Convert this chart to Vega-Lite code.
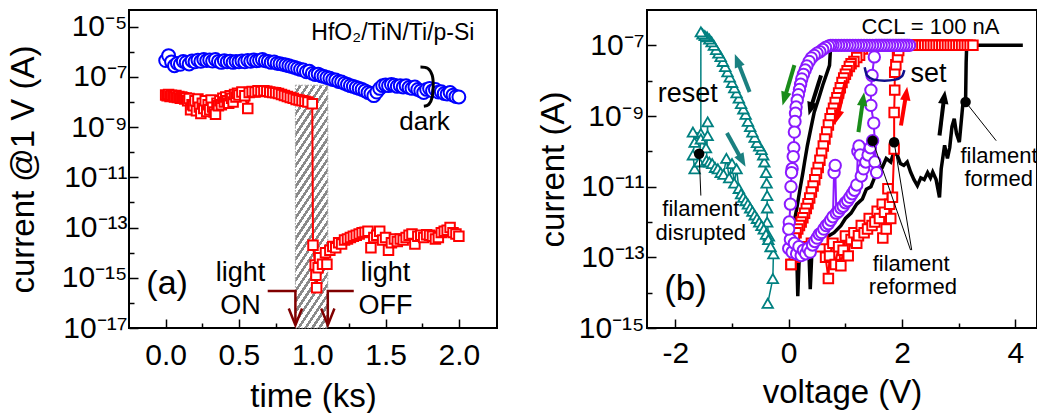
{
  "$schema": "https://vega.github.io/schema/vega-lite/v6.json",
  "background": "white",
  "padding": {"left": 5, "top": 9, "right": 0, "bottom": 0},
  "autosize": {"type": "pad"},
  "spacing": 150,
  "bounds": "flush",
  "config": {
    "font": "Liberation Sans",
    "view": {"stroke": "black", "strokeWidth": 2},
    "axis": {"domain": false, "grid": false, "labelFontSize": 30, "titleFontSize": 33, "titleFontWeight": "normal", "labelColor": "black", "titleColor": "black", "tickColor": "black", "tickWidth": 1.5, "labelFlush": false, "labelOverlap": false},
    "text": {"font": "Liberation Sans", "color": "black"}
  },
  "datasets": {
    "hatch": [{"x": 0.885, "x2": 1.106, "y": 1e-17, "y2": 4.7e-8}],
    "dark": [
      {"x":0.00,"y":4.5e-7},{"x":0.02,"y":7.1e-7},{"x":0.04,"y":4.0e-7},{"x":0.06,"y":2.8e-7},{"x":0.08,"y":3.5e-7},{"x":0.10,"y":3.2e-7},{"x":0.12,"y":4.2e-7},{"x":0.14,"y":3.8e-7},{"x":0.16,"y":3.3e-7},{"x":0.18,"y":4.4e-7},{"x":0.20,"y":4.0e-7},{"x":0.22,"y":4.7e-7},{"x":0.24,"y":4.2e-7},{"x":0.26,"y":5.0e-7},{"x":0.28,"y":4.5e-7},{"x":0.30,"y":4.8e-7},{"x":0.32,"y":4.3e-7},{"x":0.34,"y":5.0e-7},{"x":0.36,"y":4.2e-7},{"x":0.38,"y":3.8e-7},{"x":0.40,"y":4.5e-7},{"x":0.42,"y":4.0e-7},{"x":0.44,"y":4.3e-7},{"x":0.46,"y":3.8e-7},{"x":0.48,"y":4.2e-7},{"x":0.50,"y":4.0e-7},{"x":0.52,"y":4.4e-7},{"x":0.54,"y":4.0e-7},{"x":0.56,"y":4.6e-7},{"x":0.58,"y":4.2e-7},{"x":0.60,"y":4.8e-7},{"x":0.62,"y":4.4e-7},{"x":0.64,"y":4.6e-7},{"x":0.66,"y":5.0e-7},{"x":0.68,"y":4.4e-7},{"x":0.70,"y":4.2e-7},{"x":0.72,"y":3.8e-7},{"x":0.74,"y":4.0e-7},{"x":0.76,"y":3.5e-7},{"x":0.78,"y":3.4e-7},{"x":0.80,"y":3.2e-7},{"x":0.82,"y":3.0e-7},{"x":0.84,"y":2.8e-7},{"x":0.86,"y":2.6e-7},{"x":0.88,"y":2.4e-7},{"x":0.90,"y":2.2e-7},{"x":0.92,"y":2.0e-7},{"x":0.94,"y":1.9e-7},{"x":0.96,"y":1.6e-7},{"x":0.98,"y":1.7e-7},{"x":1.00,"y":1.4e-7},{"x":1.02,"y":1.26e-7},{"x":1.04,"y":1.3e-7},{"x":1.06,"y":1.12e-7},{"x":1.08,"y":1.05e-7},{"x":1.10,"y":9.5e-8},{"x":1.12,"y":8.9e-8},{"x":1.14,"y":7.9e-8},{"x":1.16,"y":7.6e-8},{"x":1.18,"y":6.6e-8},{"x":1.20,"y":6.3e-8},{"x":1.22,"y":5.6e-8},{"x":1.24,"y":5.0e-8},{"x":1.26,"y":4.5e-8},{"x":1.28,"y":4.2e-8},{"x":1.30,"y":3.8e-8},{"x":1.32,"y":3.5e-8},{"x":1.34,"y":3.2e-8},{"x":1.36,"y":2.8e-8},{"x":1.38,"y":2.4e-8},{"x":1.40,"y":2.2e-8},{"x":1.42,"y":1.8e-8},{"x":1.44,"y":2.5e-8},{"x":1.46,"y":3.5e-8},{"x":1.48,"y":4.5e-8},{"x":1.50,"y":4.8e-8},{"x":1.52,"y":4.5e-8},{"x":1.54,"y":5.0e-8},{"x":1.56,"y":4.7e-8},{"x":1.58,"y":4.2e-8},{"x":1.60,"y":4.5e-8},{"x":1.62,"y":4.0e-8},{"x":1.64,"y":4.5e-8},{"x":1.66,"y":3.8e-8},{"x":1.68,"y":3.5e-8},{"x":1.70,"y":4.0e-8},{"x":1.72,"y":3.2e-8},{"x":1.74,"y":2.8e-8},{"x":1.76,"y":2.4e-8},{"x":1.78,"y":3.2e-8},{"x":1.80,"y":3.5e-8},{"x":1.82,"y":2.8e-8},{"x":1.84,"y":3.2e-8},{"x":1.86,"y":2.5e-8},{"x":1.88,"y":2.6e-8},{"x":1.90,"y":2.2e-8},{"x":1.92,"y":2.1e-8},{"x":1.94,"y":2.4e-8},{"x":1.96,"y":1.9e-8},{"x":1.98,"y":1.66e-8},{"x":2.00,"y":1.6e-8}
    ],
    "light": [
      {"x":0.00,"y":1.9e-8},{"x":0.01,"y":1.78e-8},{"x":0.02,"y":2.0e-8},{"x":0.03,"y":1.66e-8},{"x":0.04,"y":1.86e-8},{"x":0.05,"y":1.74e-8},{"x":0.06,"y":1.58e-8},{"x":0.07,"y":1.82e-8},{"x":0.08,"y":1.51e-8},{"x":0.09,"y":1.66e-8},{"x":0.10,"y":1.41e-8},{"x":0.11,"y":1.58e-8},{"x":0.12,"y":1.48e-8},{"x":0.13,"y":1.32e-8},{"x":0.14,"y":1.45e-8},{"x":0.15,"y":1.12e-8},{"x":0.16,"y":1.38e-8},{"x":0.17,"y":5.0e-9},{"x":0.18,"y":7.9e-9},{"x":0.19,"y":7.1e-9},{"x":0.20,"y":1.12e-8},{"x":0.21,"y":4.5e-9},{"x":0.22,"y":1.32e-8},{"x":0.23,"y":6.3e-9},{"x":0.24,"y":3.5e-9},{"x":0.25,"y":8.9e-9},{"x":0.26,"y":5.6e-9},{"x":0.27,"y":1.12e-8},{"x":0.28,"y":4.2e-9},{"x":0.29,"y":7.9e-9},{"x":0.30,"y":5.0e-9},{"x":0.31,"y":1.2e-8},{"x":0.32,"y":6.3e-9},{"x":0.33,"y":4.0e-9},{"x":0.34,"y":3.3e-9},{"x":0.35,"y":8.9e-9},{"x":0.36,"y":7.1e-9},{"x":0.37,"y":1.12e-8},{"x":0.38,"y":7.9e-9},{"x":0.39,"y":1.41e-8},{"x":0.40,"y":1.0e-8},{"x":0.41,"y":1.58e-8},{"x":0.42,"y":1.12e-8},{"x":0.43,"y":8.9e-9},{"x":0.44,"y":1.78e-8},{"x":0.45,"y":1.41e-8},{"x":0.46,"y":1.0e-8},{"x":0.47,"y":2.0e-8},{"x":0.48,"y":1.58e-8},{"x":0.49,"y":2.24e-8},{"x":0.50,"y":1.9e-8},{"x":0.52,"y":2.5e-8},{"x":0.54,"y":1.78e-8},{"x":0.56,"y":5.6e-9},{"x":0.57,"y":2.4e-8},{"x":0.59,"y":2.63e-8},{"x":0.61,"y":2.5e-8},{"x":0.63,"y":2.82e-8},{"x":0.65,"y":2.63e-8},{"x":0.67,"y":2.82e-8},{"x":0.69,"y":2.7e-8},{"x":0.71,"y":2.5e-8},{"x":0.73,"y":2.4e-8},{"x":0.75,"y":2.34e-8},{"x":0.77,"y":2.19e-8},{"x":0.79,"y":2.0e-8},{"x":0.81,"y":1.82e-8},{"x":0.83,"y":1.66e-8},{"x":0.85,"y":1.51e-8},{"x":0.87,"y":1.41e-8},{"x":0.89,"y":1.26e-8},{"x":0.91,"y":1.2e-8},{"x":0.93,"y":1.12e-8},{"x":0.95,"y":1.07e-8},{"x":0.97,"y":1.0e-8},{"x":1.00,"y":8.5e-9},{"x":1.005,"y":2.0e-14},{"x":1.02,"y":3.2e-15},{"x":1.025,"y":1.26e-15},{"x":1.03,"y":4.0e-16},{"x":1.04,"y":2.5e-15},{"x":1.05,"y":6.3e-15},{"x":1.07,"y":3.5e-15},{"x":1.09,"y":1.0e-14},{"x":1.10,"y":3.5e-15},{"x":1.12,"y":1.26e-14},{"x":1.14,"y":1.78e-14},{"x":1.16,"y":1.58e-14},{"x":1.18,"y":2.5e-14},{"x":1.20,"y":2.24e-14},{"x":1.22,"y":3.2e-14},{"x":1.24,"y":3.5e-14},{"x":1.26,"y":4.0e-14},{"x":1.28,"y":4.5e-14},{"x":1.30,"y":5.0e-14},{"x":1.32,"y":5.6e-14},{"x":1.34,"y":6.3e-14},{"x":1.36,"y":6.6e-14},{"x":1.38,"y":7.1e-14},{"x":1.40,"y":1.58e-14},{"x":1.42,"y":4.0e-14},{"x":1.44,"y":5.0e-14},{"x":1.46,"y":7.1e-14},{"x":1.48,"y":3.2e-14},{"x":1.50,"y":4.0e-14},{"x":1.52,"y":1.26e-14},{"x":1.54,"y":2.5e-14},{"x":1.56,"y":3.5e-14},{"x":1.58,"y":2.8e-14},{"x":1.60,"y":3.5e-14},{"x":1.62,"y":3.2e-14},{"x":1.64,"y":4.0e-14},{"x":1.66,"y":5.0e-14},{"x":1.68,"y":5.6e-14},{"x":1.70,"y":2.24e-14},{"x":1.72,"y":4.5e-14},{"x":1.74,"y":5.0e-14},{"x":1.76,"y":4.0e-14},{"x":1.78,"y":5.2e-14},{"x":1.80,"y":5.0e-14},{"x":1.82,"y":4.5e-14},{"x":1.84,"y":3.5e-14},{"x":1.86,"y":4.0e-14},{"x":1.88,"y":6.3e-14},{"x":1.90,"y":7.1e-14},{"x":1.92,"y":7.9e-14},{"x":1.94,"y":1.0e-13},{"x":1.96,"y":6.3e-14},{"x":1.98,"y":5.6e-14},{"x":2.00,"y":4.5e-14}
    ],
    "bracket": [
      {"x":1.738,"y":2.5e-7},{"x":1.788,"y":2.2e-7},{"x":1.818,"y":1.17e-7},{"x":1.825,"y":4.7e-8},{"x":1.818,"y":1.58e-8},{"x":1.795,"y":8.1e-9},{"x":1.761,"y":6.8e-9}
    ],
    "lightArrows": [
      {"x":0.696,"y":2.95e-16,"a":"on"},{"x":0.885,"y":2.95e-16,"a":"on"},{"x":0.885,"y":1.35e-17,"a":"on"},
      {"x":1.283,"y":2.95e-16,"a":"off"},{"x":1.106,"y":2.95e-16,"a":"off"},{"x":1.106,"y":1.35e-17,"a":"off"}
    ],
    "lightHeads": [{"x":0.885,"y":1.3e-17},{"x":1.106,"y":1.3e-17}],
    "txtTitleA": [{"x":1.55,"y":5.6e-6,"s":"HfO₂/TiN/Ti/p-Si"}],
    "txtDark": [{"x":1.766,"y":1.58e-9,"s":"dark"}],
    "txtA": [{"x":0.01,"y":5.5e-16,"s":"(a)"}],
    "txtLight": [{"x":0.51,"y":1.58e-15,"s":"light"},{"x":0.51,"y":7.4e-17,"s":"ON"},{"x":1.5,"y":1.58e-15,"s":"light"},{"x":1.5,"y":7.4e-17,"s":"OFF"}],
    "teal": [
      {"x":-0.37,"y":5.0e-15},{"x":-0.28,"y":2.5e-14},{"x":-0.27,"y":1.26e-13},{"x":-0.35,"y":4.0e-13},{"x":-0.38,"y":1.0e-12},{"x":-0.38,"y":2.5e-12},{"x":-0.38,"y":5.6e-12},{"x":-0.39,"y":1.26e-11},{"x":-0.40,"y":2.5e-11},{"x":-0.43,"y":5.0e-11},{"x":-0.45,"y":7.9e-11},{"x":-0.48,"y":1.12e-10},{"x":-0.52,"y":1.41e-10},{"x":-0.56,"y":1.78e-10},{"x":-0.60,"y":2.5e-10},{"x":-0.64,"y":3.5e-10},{"x":-0.68,"y":5.0e-10},{"x":-0.72,"y":7.1e-10},{"x":-0.76,"y":1.12e-9},{"x":-0.80,"y":1.58e-9},{"x":-0.84,"y":2.24e-9},{"x":-0.88,"y":3.2e-9},{"x":-0.92,"y":4.5e-9},{"x":-0.96,"y":6.3e-9},{"x":-1.00,"y":8.9e-9},{"x":-1.04,"y":1.26e-8},{"x":-1.08,"y":1.78e-8},{"x":-1.12,"y":2.5e-8},{"x":-1.16,"y":3.5e-8},{"x":-1.20,"y":4.8e-8},{"x":-1.24,"y":6.0e-8},{"x":-1.28,"y":7.6e-8},{"x":-1.32,"y":1.0e-7},{"x":-1.36,"y":1.26e-7},{"x":-1.40,"y":1.5e-7},{"x":-1.44,"y":1.74e-7},{"x":-1.48,"y":1.9e-7},{"x":-1.52,"y":2.1e-7},{"x":-1.55,"y":2.4e-7},
      {"x":-1.55,"y":3.2e-10},{"x":-1.69,"y":3.5e-10},{"x":-1.66,"y":1.8e-10},{"x":-1.69,"y":7.9e-11},{"x":-1.66,"y":3.2e-11},{"x":-1.58,"y":5.0e-11},{"x":-1.55,"y":2.24e-10},{"x":-1.46,"y":1.26e-10},{"x":-1.43,"y":2.8e-10},{"x":-1.43,"y":6.8e-10},{"x":-1.45,"y":5.6e-11},
      {"x":-1.40,"y":5.0e-11},{"x":-1.35,"y":4.5e-11},{"x":-1.30,"y":3.5e-11},{"x":-1.25,"y":3.2e-11},{"x":-1.20,"y":2.5e-11},{"x":-1.15,"y":2.24e-11},{"x":-1.10,"y":6.3e-11},{"x":-1.05,"y":1.78e-11},{"x":-1.00,"y":4.5e-11},{"x":-0.96,"y":1.26e-11},{"x":-0.92,"y":3.2e-11},{"x":-0.88,"y":8.9e-12},{"x":-0.84,"y":6.3e-12},{"x":-0.80,"y":5.0e-12},{"x":-0.76,"y":4.0e-12},{"x":-0.72,"y":3.2e-12},{"x":-0.68,"y":2.5e-12},{"x":-0.64,"y":2.0e-12},{"x":-0.60,"y":1.58e-12},{"x":-0.56,"y":1.26e-12},{"x":-0.52,"y":1.0e-12},{"x":-0.48,"y":7.9e-13},{"x":-0.44,"y":6.3e-13},{"x":-0.40,"y":4.5e-13},{"x":-0.36,"y":3.2e-13},{"x":-0.32,"y":2.0e-13}
    ],
    "black": [
      {"x":0.05,"y":2.0e-13},{"x":0.10,"y":1.0e-13},{"x":0.14,"y":1.58e-13},{"x":0.16,"y":7.9e-15},{"x":0.19,"y":1.58e-13},{"x":0.25,"y":1.26e-13},{"x":0.30,"y":2.0e-13},{"x":0.36,"y":1.0e-13},{"x":0.38,"y":1.26e-14},{"x":0.41,"y":1.58e-13},{"x":0.50,"y":2.5e-13},{"x":0.60,"y":3.2e-13},{"x":0.70,"y":4.0e-13},{"x":0.80,"y":5.0e-13},{"x":0.92,"y":7.9e-13},{"x":1.00,"y":1.26e-12},{"x":1.10,"y":1.78e-12},{"x":1.20,"y":3.2e-12},{"x":1.30,"y":4.5e-12},{"x":1.37,"y":8.5e-12},{"x":1.45,"y":1.0e-11},{"x":1.50,"y":1.58e-11},{"x":1.57,"y":3.2e-11},{"x":1.65,"y":3.5e-11},{"x":1.72,"y":6.3e-11},{"x":1.80,"y":5.0e-11},{"x":1.86,"y":1.0e-10},{"x":1.92,"y":7.6e-11},{"x":1.97,"y":4.5e-11},{"x":2.03,"y":4.0e-11},{"x":2.09,"y":5.0e-11},{"x":2.15,"y":2.6e-11},{"x":2.21,"y":1.58e-11},{"x":2.27,"y":1.07e-11},{"x":2.33,"y":1.78e-11},{"x":2.39,"y":1.58e-11},{"x":2.45,"y":2.5e-11},{"x":2.50,"y":1.78e-11},{"x":2.54,"y":2.6e-11},{"x":2.60,"y":1.58e-11},{"x":2.66,"y":5.0e-12},{"x":2.69,"y":3.2e-11},{"x":2.75,"y":1.48e-10},{"x":2.80,"y":6.3e-11},{"x":2.84,"y":1.26e-10},{"x":2.88,"y":5.0e-10},{"x":2.92,"y":8.3e-10},{"x":2.96,"y":3.2e-10},{"x":3.01,"y":1.82e-10},{"x":3.07,"y":2.0e-9},{"x":3.12,"y":2.5e-9},{"x":3.13,"y":3.2e-8},{"x":3.14,"y":1.0e-7},{"x":4.13,"y":1.0e-7},{"x":0.74,"y":1.0e-7},{"x":0.72,"y":2.7e-8},{"x":0.60,"y":7.4e-9},{"x":0.53,"y":3.2e-9},{"x":0.45,"y":1.29e-9},{"x":0.39,"y":4.4e-10},{"x":0.33,"y":1.48e-10},{"x":0.28,"y":5.0e-11},{"x":0.25,"y":2.5e-11},{"x":0.20,"y":8.7e-12},{"x":0.14,"y":2.3e-12},{"x":0.07,"y":6.3e-13},{"x":0.03,"y":2.5e-13}
    ],
    "red": [
      {"x":0.04,"y":6.3e-14},{"x":0.10,"y":1.0e-13},{"x":0.20,"y":1.41e-13},{"x":0.30,"y":2.0e-13},{"x":0.40,"y":2.5e-13},{"x":0.50,"y":2.8e-13},{"x":0.55,"y":2.0e-13},{"x":0.60,"y":3.2e-13},{"x":0.65,"y":1.0e-13},{"x":0.70,"y":2.5e-14},{"x":0.72,"y":1.1e-13},{"x":0.78,"y":2.5e-13},{"x":0.82,"y":6.3e-14},{"x":0.88,"y":2.0e-13},{"x":0.92,"y":5.8e-14},{"x":0.96,"y":1.58e-13},{"x":1.00,"y":4.0e-13},{"x":1.05,"y":1.1e-13},{"x":1.10,"y":3.2e-13},{"x":1.15,"y":5.0e-13},{"x":1.20,"y":2.5e-13},{"x":1.23,"y":4.1e-13},{"x":1.28,"y":7.9e-13},{"x":1.33,"y":5.0e-13},{"x":1.39,"y":6.3e-13},{"x":1.42,"y":1.26e-12},{"x":1.47,"y":7.9e-13},{"x":1.52,"y":1.0e-12},{"x":1.56,"y":2.0e-12},{"x":1.60,"y":1.26e-12},{"x":1.65,"y":3.2e-12},{"x":1.69,"y":1.9e-12},{"x":1.66,"y":3.5e-13},{"x":1.72,"y":6.3e-13},{"x":1.75,"y":8.7e-12},{"x":1.78,"y":3.2e-12},{"x":1.80,"y":1.26e-12},{"x":1.83,"y":5.0e-12},{"x":1.86,"y":1.17e-10},{"x":1.86,"y":1.26e-9},{"x":1.87,"y":5.4e-9},{"x":1.87,"y":1.74e-8},{"x":1.89,"y":2.8e-8},{"x":1.92,"y":4.7e-8},{"x":1.94,"y":7.1e-8},{"x":1.97,"y":1.0e-7},
      {"x":2.00,"y":1e-7},{"x":2.05,"y":1e-7},{"x":2.10,"y":1e-7},{"x":2.15,"y":1e-7},{"x":2.20,"y":1e-7},{"x":2.25,"y":1e-7},{"x":2.30,"y":1e-7},{"x":2.35,"y":1e-7},{"x":2.40,"y":1e-7},{"x":2.45,"y":1e-7},{"x":2.50,"y":1e-7},{"x":2.55,"y":1e-7},{"x":2.60,"y":1e-7},{"x":2.65,"y":1e-7},{"x":2.70,"y":1e-7},{"x":2.75,"y":1e-7},{"x":2.80,"y":1e-7},{"x":2.85,"y":1e-7},{"x":2.90,"y":1e-7},{"x":2.95,"y":1e-7},{"x":3.00,"y":1e-7},{"x":3.05,"y":1e-7},{"x":3.10,"y":1e-7},{"x":3.15,"y":1e-7},{"x":3.20,"y":1e-7},{"x":3.25,"y":1e-7},
      {"x":1.33,"y":1e-7},{"x":1.30,"y":7.9e-8},{"x":1.25,"y":5.2e-8},{"x":1.20,"y":4.5e-8},{"x":1.15,"y":3.5e-8},{"x":1.10,"y":3.0e-8},{"x":1.07,"y":2.5e-8},{"x":1.03,"y":1.9e-8},{"x":1.00,"y":1.51e-8},{"x":0.97,"y":1.2e-8},{"x":0.94,"y":8.9e-9},{"x":0.91,"y":6.3e-9},{"x":0.88,"y":4.5e-9},{"x":0.85,"y":3.3e-9},{"x":0.82,"y":2.4e-9},{"x":0.79,"y":1.66e-9},{"x":0.76,"y":1.2e-9},{"x":0.73,"y":8.3e-10},{"x":0.70,"y":5.6e-10},{"x":0.67,"y":3.5e-10},{"x":0.64,"y":2.24e-10},{"x":0.61,"y":1.41e-10},{"x":0.58,"y":8.9e-11},{"x":0.55,"y":5.6e-11},{"x":0.52,"y":3.5e-11},{"x":0.49,"y":2.4e-11},{"x":0.46,"y":1.58e-11},{"x":0.43,"y":1.05e-11},{"x":0.40,"y":7.1e-12},{"x":0.37,"y":4.8e-12},{"x":0.34,"y":3.3e-12},{"x":0.31,"y":2.4e-12},{"x":0.28,"y":1.78e-12},{"x":0.25,"y":1.32e-12},{"x":0.22,"y":1.0e-12},{"x":0.19,"y":7.9e-13},{"x":0.16,"y":6.3e-13},{"x":0.13,"y":5.0e-13},{"x":0.10,"y":3.5e-13},{"x":0.07,"y":2.24e-13},{"x":0.04,"y":6.3e-14}
    ],
    "purple": [
      {"x":0.00,"y":1.78e-13},{"x":0.03,"y":3.2e-13},{"x":0.06,"y":1.41e-13},{"x":0.10,"y":2.5e-13},{"x":0.14,"y":1.26e-13},{"x":0.18,"y":2.0e-13},{"x":0.22,"y":1.12e-13},{"x":0.26,"y":1.58e-13},{"x":0.30,"y":1.26e-13},{"x":0.34,"y":1.78e-13},{"x":0.38,"y":1.41e-13},{"x":0.42,"y":2.24e-13},{"x":0.46,"y":2.8e-13},{"x":0.50,"y":3.5e-13},{"x":0.54,"y":4.5e-13},{"x":0.58,"y":5.0e-13},{"x":0.62,"y":6.3e-13},{"x":0.66,"y":7.9e-13},{"x":0.70,"y":8.9e-13},{"x":0.74,"y":1.12e-12},{"x":0.78,"y":1.41e-12},{"x":0.80,"y":2.5e-11},{"x":0.82,"y":4.0e-11},{"x":0.84,"y":1.78e-12},{"x":0.88,"y":2.0e-12},{"x":0.92,"y":2.5e-12},{"x":0.96,"y":2.8e-12},{"x":1.00,"y":3.5e-12},{"x":1.04,"y":4.0e-12},{"x":1.08,"y":5.0e-12},{"x":1.12,"y":6.3e-12},{"x":1.16,"y":7.9e-12},{"x":1.20,"y":1.12e-11},{"x":1.22,"y":1.0e-10},{"x":1.24,"y":1.41e-10},{"x":1.26,"y":7.9e-11},{"x":1.28,"y":2.0e-11},{"x":1.32,"y":3.2e-11},{"x":1.36,"y":5.0e-11},{"x":1.40,"y":7.9e-11},{"x":1.44,"y":1.26e-10},{"x":1.48,"y":2.0e-10},{"x":1.52,"y":5.0e-11},{"x":1.55,"y":2.5e-11},{"x":1.50,"y":6.3e-10},{"x":1.45,"y":2.0e-9},{"x":1.45,"y":5.4e-9},{"x":1.47,"y":1.41e-8},{"x":1.51,"y":4.7e-8},{"x":1.55,"y":1.0e-7},
      {"x":1.60,"y":1e-7},{"x":1.65,"y":1e-7},{"x":1.70,"y":1e-7},{"x":1.75,"y":1e-7},{"x":1.80,"y":1e-7},{"x":1.85,"y":1e-7},{"x":1.90,"y":1e-7},{"x":1.95,"y":1e-7},{"x":2.00,"y":1e-7},{"x":2.05,"y":1e-7},{"x":2.10,"y":1e-7},{"x":2.13,"y":1e-7},
      {"x":2.08,"y":1e-7},{"x":2.03,"y":1e-7},{"x":1.98,"y":1e-7},{"x":1.93,"y":1e-7},{"x":1.88,"y":1e-7},{"x":1.83,"y":1e-7},{"x":1.78,"y":1e-7},{"x":1.73,"y":1e-7},{"x":1.68,"y":1e-7},{"x":1.63,"y":1e-7},{"x":1.58,"y":1e-7},{"x":1.53,"y":1e-7},{"x":1.48,"y":1e-7},{"x":1.43,"y":1e-7},{"x":1.38,"y":1e-7},{"x":1.33,"y":1e-7},{"x":1.28,"y":1e-7},{"x":1.23,"y":1e-7},{"x":1.18,"y":1e-7},{"x":1.13,"y":1e-7},{"x":1.08,"y":1e-7},{"x":1.03,"y":1e-7},{"x":0.98,"y":1e-7},{"x":0.93,"y":1e-7},{"x":0.88,"y":1e-7},{"x":0.83,"y":1e-7},{"x":0.78,"y":1e-7},{"x":0.74,"y":1e-7},
      {"x":0.70,"y":9.5e-8},{"x":0.65,"y":8.7e-8},{"x":0.60,"y":7.6e-8},{"x":0.55,"y":6.6e-8},{"x":0.50,"y":6.0e-8},{"x":0.45,"y":5.2e-8},{"x":0.40,"y":4.4e-8},{"x":0.36,"y":3.5e-8},{"x":0.32,"y":2.6e-8},{"x":0.29,"y":2.0e-8},{"x":0.26,"y":1.51e-8},{"x":0.23,"y":1.12e-8},{"x":0.21,"y":7.9e-9},{"x":0.19,"y":5.6e-9},{"x":0.17,"y":4.0e-9},{"x":0.15,"y":2.8e-9},{"x":0.13,"y":1.8e-9},{"x":0.12,"y":1.2e-9},{"x":0.11,"y":7.0e-10},{"x":0.10,"y":3.5e-10},{"x":0.09,"y":1.26e-10},{"x":0.08,"y":7.1e-11},{"x":0.06,"y":3.2e-11},{"x":0.05,"y":2.5e-11},{"x":0.04,"y":1.0e-11},{"x":0.03,"y":3.2e-12},{"x":0.01,"y":1.0e-12},{"x":0.00,"y":6.3e-13}
    ],
    "dots": [{"x":-1.58,"y":8.5e-11},{"x":1.48,"y":2.0e-10},{"x":1.86,"y":1.8e-10},{"x":3.12,"y":2.5e-9}],
    "leaders": [
      {"x":-1.58,"y":8.5e-11,"x2":-1.55,"y2":5.6e-12},
      {"x":1.48,"y":2.0e-10,"x2":2.15,"y2":1.6e-13},
      {"x":1.86,"y":1.8e-10,"x2":2.17,"y2":1.6e-13},
      {"x":3.12,"y":2.5e-9,"x2":3.66,"y2":2.0e-10}
    ],
    "arrows": [
      {"x":0.10,"y":2.75e-8,"x2":-0.07,"y2":3.3e-9,"k":"green","dir":"dl"},
      {"x":0.57,"y":1.41e-8,"x2":0.39,"y2":1.7e-9,"k":"black","dir":"dl"},
      {"x":1.01,"y":1.02e-8,"x2":0.86,"y2":1.0e-9,"k":"red","dir":"dl"},
      {"x":1.23,"y":3.5e-10,"x2":1.31,"y2":2.8e-9,"k":"green","dir":"u"},
      {"x":1.98,"y":5.4e-10,"x2":2.07,"y2":4.0e-9,"k":"red","dir":"u"},
      {"x":2.66,"y":2.8e-10,"x2":2.74,"y2":3.2e-9,"k":"black","dir":"u"},
      {"x":-0.69,"y":4.8e-9,"x2":-0.90,"y2":3.5e-8,"k":"teal","dir":"ul"},
      {"x":-1.09,"y":3.3e-10,"x2":-0.83,"y2":5.8e-11,"k":"teal","dir":"dr"}
    ],
    "setArc": [{"x":1.34,"y":2.4e-8},{"x":1.38,"y":1.41e-8},{"x":1.5,"y":1.07e-8},{"x":1.69,"y":1.0e-8},{"x":1.88,"y":1.07e-8},{"x":2.0,"y":1.35e-8},{"x":2.04,"y":2.0e-8}],
    "txtSmallC": [{"x":2.5,"y":3.3e-7,"s":"CCL = 100 nA"},{"x":-1.55,"y":2.3e-12,"s":"filament"},{"x":-1.55,"y":4.9e-13,"s":"disrupted"},{"x":2.16,"y":6.5e-14,"s":"filament"},{"x":2.19,"y":1.45e-14,"s":"reformed"}],
    "txtSmallL": [{"x":3.03,"y":7.6e-11,"s":"filament"},{"x":3.1,"y":1.7e-11,"s":"formed"}],
    "txtReset": [{"x":-1.78,"y":4.3e-9,"s":"reset"}],
    "txtSet": [{"x":2.15,"y":1.58e-8,"s":"set"}],
    "txtB": [{"x":-1.82,"y":1.26e-14,"s":"(b)"}]
  },
  "hconcat": [
    {
      "width": 368,
      "height": 318,
      "encoding": {
        "x": {"field": "x", "type": "quantitative", "scale": {"domain": [-0.25, 2.26], "nice": false, "zero": false},
          "axis": {"title": "time (ks)", "values": [0, 0.25, 0.5, 0.75, 1, 1.25, 1.5, 1.75, 2],
            "labelExpr": "abs(datum.value*2 - round(datum.value*2)) < 0.01 ? format(datum.value, '.1f') : ''",
            "tickSize": {"condition": {"test": "abs(datum.value*2 - round(datum.value*2)) < 0.01", "value": -9}, "value": -5},
            "labelPadding": 21, "titlePadding": 6}},
        "y": {"field": "y", "type": "quantitative", "scale": {"type": "log", "domain": [1e-17, 4.66e-5], "nice": false},
          "axis": {"title": "current @1 V (A)", "values": [1e-17,1e-16,1e-15,1e-14,1e-13,1e-12,1e-11,1e-10,1e-9,1e-8,1e-7,1e-6,1e-5],
            "labelExpr": "round(log(datum.value)/LN10) == -5 ? '10⁻⁵' : round(log(datum.value)/LN10) == -7 ? '10⁻⁷' : round(log(datum.value)/LN10) == -9 ? '10⁻⁹' : round(log(datum.value)/LN10) == -11 ? '10⁻¹¹' : round(log(datum.value)/LN10) == -13 ? '10⁻¹³' : round(log(datum.value)/LN10) == -15 ? '10⁻¹⁵' : round(log(datum.value)/LN10) == -17 ? '10⁻¹⁷' : ''",
            "tickSize": {"condition": {"test": "abs(round(log(datum.value)/LN10)) % 2 == 1", "value": -9}, "value": -5},
            "labelPadding": 11, "titlePadding": 9, "minExtent": 80, "maxExtent": 80}}
      },
      "layer": [
        {"data": {"name": "hatch"}, "mark": {"type": "rect", "strokeWidth": 1, "stroke": "#9a9a9a", "strokeDash": [1.5, 1.5],
          "fill": {"gradient": "linear", "x1": 1, "y1": 1, "x2": 0.769, "y2": -0.154, "stops": [
            {"offset":0,"color":"#8a8a8a"},{"offset":0.0161,"color":"#8a8a8a"},{"offset":0.0161,"color":"#ffffff"},{"offset":0.0357,"color":"#ffffff"},
            {"offset":0.0357,"color":"#8a8a8a"},{"offset":0.0518,"color":"#8a8a8a"},{"offset":0.0518,"color":"#ffffff"},{"offset":0.0714,"color":"#ffffff"},
            {"offset":0.0714,"color":"#8a8a8a"},{"offset":0.0875,"color":"#8a8a8a"},{"offset":0.0875,"color":"#ffffff"},{"offset":0.1071,"color":"#ffffff"},
            {"offset":0.1071,"color":"#8a8a8a"},{"offset":0.1232,"color":"#8a8a8a"},{"offset":0.1232,"color":"#ffffff"},{"offset":0.1429,"color":"#ffffff"},
            {"offset":0.1429,"color":"#8a8a8a"},{"offset":0.159,"color":"#8a8a8a"},{"offset":0.159,"color":"#ffffff"},{"offset":0.1786,"color":"#ffffff"},
            {"offset":0.1786,"color":"#8a8a8a"},{"offset":0.1947,"color":"#8a8a8a"},{"offset":0.1947,"color":"#ffffff"},{"offset":0.2143,"color":"#ffffff"},
            {"offset":0.2143,"color":"#8a8a8a"},{"offset":0.2304,"color":"#8a8a8a"},{"offset":0.2304,"color":"#ffffff"},{"offset":0.25,"color":"#ffffff"},
            {"offset":0.25,"color":"#8a8a8a"},{"offset":0.2661,"color":"#8a8a8a"},{"offset":0.2661,"color":"#ffffff"},{"offset":0.2857,"color":"#ffffff"},
            {"offset":0.2857,"color":"#8a8a8a"},{"offset":0.3018,"color":"#8a8a8a"},{"offset":0.3018,"color":"#ffffff"},{"offset":0.3214,"color":"#ffffff"},
            {"offset":0.3214,"color":"#8a8a8a"},{"offset":0.3375,"color":"#8a8a8a"},{"offset":0.3375,"color":"#ffffff"},{"offset":0.3571,"color":"#ffffff"},
            {"offset":0.3571,"color":"#8a8a8a"},{"offset":0.3732,"color":"#8a8a8a"},{"offset":0.3732,"color":"#ffffff"},{"offset":0.3929,"color":"#ffffff"},
            {"offset":0.3929,"color":"#8a8a8a"},{"offset":0.409,"color":"#8a8a8a"},{"offset":0.409,"color":"#ffffff"},{"offset":0.4286,"color":"#ffffff"},
            {"offset":0.4286,"color":"#8a8a8a"},{"offset":0.4447,"color":"#8a8a8a"},{"offset":0.4447,"color":"#ffffff"},{"offset":0.4643,"color":"#ffffff"},
            {"offset":0.4643,"color":"#8a8a8a"},{"offset":0.4804,"color":"#8a8a8a"},{"offset":0.4804,"color":"#ffffff"},{"offset":0.5,"color":"#ffffff"},
            {"offset":0.5,"color":"#8a8a8a"},{"offset":0.5161,"color":"#8a8a8a"},{"offset":0.5161,"color":"#ffffff"},{"offset":0.5357,"color":"#ffffff"},
            {"offset":0.5357,"color":"#8a8a8a"},{"offset":0.5518,"color":"#8a8a8a"},{"offset":0.5518,"color":"#ffffff"},{"offset":0.5714,"color":"#ffffff"},
            {"offset":0.5714,"color":"#8a8a8a"},{"offset":0.5875,"color":"#8a8a8a"},{"offset":0.5875,"color":"#ffffff"},{"offset":0.6071,"color":"#ffffff"},
            {"offset":0.6071,"color":"#8a8a8a"},{"offset":0.6232,"color":"#8a8a8a"},{"offset":0.6232,"color":"#ffffff"},{"offset":0.6429,"color":"#ffffff"},
            {"offset":0.6429,"color":"#8a8a8a"},{"offset":0.659,"color":"#8a8a8a"},{"offset":0.659,"color":"#ffffff"},{"offset":0.6786,"color":"#ffffff"},
            {"offset":0.6786,"color":"#8a8a8a"},{"offset":0.6947,"color":"#8a8a8a"},{"offset":0.6947,"color":"#ffffff"},{"offset":0.7143,"color":"#ffffff"},
            {"offset":0.7143,"color":"#8a8a8a"},{"offset":0.7304,"color":"#8a8a8a"},{"offset":0.7304,"color":"#ffffff"},{"offset":0.75,"color":"#ffffff"},
            {"offset":0.75,"color":"#8a8a8a"},{"offset":0.7661,"color":"#8a8a8a"},{"offset":0.7661,"color":"#ffffff"},{"offset":0.7857,"color":"#ffffff"},
            {"offset":0.7857,"color":"#8a8a8a"},{"offset":0.8018,"color":"#8a8a8a"},{"offset":0.8018,"color":"#ffffff"},{"offset":0.8214,"color":"#ffffff"},
            {"offset":0.8214,"color":"#8a8a8a"},{"offset":0.8375,"color":"#8a8a8a"},{"offset":0.8375,"color":"#ffffff"},{"offset":0.8571,"color":"#ffffff"},
            {"offset":0.8571,"color":"#8a8a8a"},{"offset":0.8732,"color":"#8a8a8a"},{"offset":0.8732,"color":"#ffffff"},{"offset":0.8929,"color":"#ffffff"},
            {"offset":0.8929,"color":"#8a8a8a"},{"offset":0.909,"color":"#8a8a8a"},{"offset":0.909,"color":"#ffffff"},{"offset":0.9286,"color":"#ffffff"},
            {"offset":0.9286,"color":"#8a8a8a"},{"offset":0.9447,"color":"#8a8a8a"},{"offset":0.9447,"color":"#ffffff"},{"offset":0.9643,"color":"#ffffff"},
            {"offset":0.9643,"color":"#8a8a8a"},{"offset":0.9804,"color":"#8a8a8a"},{"offset":0.9804,"color":"#ffffff"},{"offset":1,"color":"#ffffff"}
          ]}},
          "encoding": {"x2": {"field": "x2"}, "y2": {"field": "y2"}}},
        {"data": {"name": "dark"}, "mark": {"type": "point", "shape": "circle", "size": 165, "filled": true, "fill": "white", "stroke": "#0000ff", "strokeWidth": 2, "opacity": 1}},
        {"data": {"name": "light"}, "mark": {"type": "line", "color": "#ff0000", "strokeWidth": 2}},
        {"data": {"name": "light"}, "mark": {"type": "point", "shape": "square", "size": 90, "filled": true, "fill": "white", "stroke": "#ff0000", "strokeWidth": 2, "opacity": 1}},
        {"data": {"name": "bracket"}, "mark": {"type": "line", "color": "black", "strokeWidth": 3, "interpolate": "cardinal"}, "encoding": {"order": {"value": null}}},
        {"data": {"name": "lightArrows"}, "mark": {"type": "line", "color": "#800000", "strokeWidth": 2.5}, "encoding": {"detail": {"field": "a"}, "order": {"value": null}}},
        {"data": {"name": "lightHeads"}, "mark": {"type": "point", "shape": "M-0.4,-1L0,0L0.4,-1", "size": 1100, "filled": false, "stroke": "#800000", "strokeWidth": 2.5, "opacity": 1}},
        {"data": {"name": "txtTitleA"}, "mark": {"type": "text", "fontSize": 23, "align": "center", "baseline": "middle"}, "encoding": {"text": {"field": "s"}}},
        {"data": {"name": "txtDark"}, "mark": {"type": "text", "fontSize": 26, "align": "center", "baseline": "middle"}, "encoding": {"text": {"field": "s"}}},
        {"data": {"name": "txtA"}, "mark": {"type": "text", "fontSize": 34, "align": "center", "baseline": "middle"}, "encoding": {"text": {"field": "s"}}},
        {"data": {"name": "txtLight"}, "mark": {"type": "text", "fontSize": 27, "align": "center", "baseline": "middle"}, "encoding": {"text": {"field": "s"}}}
      ]
    },
    {
      "width": 390,
      "height": 318,
      "encoding": {
        "x": {"field": "x", "type": "quantitative", "scale": {"domain": [-2.5, 4.38], "nice": false, "zero": false},
          "axis": {"title": "voltage (V)", "values": [-2, -1, 0, 1, 2, 3, 4],
            "labelExpr": "datum.value % 2 == 0 ? '' + datum.value : ''",
            "tickSize": {"condition": {"test": "datum.value % 2 == 0", "value": -9}, "value": -5},
            "labelPadding": 19, "titlePadding": 4}},
        "y": {"field": "y", "type": "quantitative", "scale": {"type": "log", "domain": [1e-15, 1e-6], "nice": false},
          "axis": {"title": "current (A)", "values": [1e-15,1e-14,1e-13,1e-12,1e-11,1e-10,1e-9,1e-8,1e-7],
            "labelExpr": "round(log(datum.value)/LN10) == -7 ? '10⁻⁷' : round(log(datum.value)/LN10) == -9 ? '10⁻⁹' : round(log(datum.value)/LN10) == -11 ? '10⁻¹¹' : round(log(datum.value)/LN10) == -13 ? '10⁻¹³' : round(log(datum.value)/LN10) == -15 ? '10⁻¹⁵' : ''",
            "tickSize": {"condition": {"test": "abs(round(log(datum.value)/LN10)) % 2 == 1", "value": -9}, "value": -5},
            "labelPadding": 12, "titlePadding": 8, "minExtent": 69, "maxExtent": 69}}
      },
      "layer": [
        {"data": {"name": "teal"}, "mark": {"type": "line", "color": "#008080", "strokeWidth": 1.5}, "encoding": {"order": {"value": null}}},
        {"data": {"name": "teal"}, "mark": {"type": "point", "shape": "triangle-up", "size": 110, "filled": true, "fill": "white", "stroke": "#008080", "strokeWidth": 1.8, "opacity": 1}},
        {"data": {"name": "black"}, "mark": {"type": "line", "color": "black", "strokeWidth": 3.5}, "encoding": {"order": {"value": null}}},
        {"data": {"name": "red"}, "mark": {"type": "line", "color": "#ff0000", "strokeWidth": 2}, "encoding": {"order": {"value": null}}},
        {"data": {"name": "red"}, "mark": {"type": "point", "shape": "square", "size": 90, "filled": true, "fill": "white", "stroke": "#ff0000", "strokeWidth": 2, "opacity": 1}},
        {"data": {"name": "purple"}, "mark": {"type": "line", "color": "#8b1aff", "strokeWidth": 2}, "encoding": {"order": {"value": null}}},
        {"data": {"name": "purple"}, "mark": {"type": "point", "shape": "circle", "size": 130, "filled": true, "fill": "white", "stroke": "#8b1aff", "strokeWidth": 2, "opacity": 1}},
        {"data": {"name": "leaders"}, "mark": {"type": "rule", "color": "black", "strokeWidth": 1}, "encoding": {"x2": {"field": "x2"}, "y2": {"field": "y2"}}},
        {"data": {"name": "dots"}, "mark": {"type": "point", "shape": "circle", "size": 110, "filled": true, "color": "black", "opacity": 1}},
        {"data": {"name": "arrows"}, "mark": {"type": "rule", "strokeWidth": 4},
          "encoding": {"x2": {"field": "x2"}, "y2": {"field": "y2"},
            "color": {"field": "k", "type": "nominal", "scale": {"domain": ["black", "red", "green", "teal"], "range": ["#000000", "#ff0000", "#1a8c1a", "#1a8080"]}, "legend": null}}},
        {"data": {"name": "arrows"}, "mark": {"type": "point", "shape": "M0,-1L0.65,0.7L-0.65,0.7Z", "size": 260, "filled": true, "opacity": 1,
            "angle": {"expr": "datum.dir == 'dl' ? 196 : datum.dir == 'u' ? 8 : datum.dir == 'ul' ? 339 : 151"}},
          "encoding": {"x": {"field": "x2", "type": "quantitative"}, "y": {"field": "y2", "type": "quantitative"},
            "color": {"field": "k", "type": "nominal", "legend": null}}},
        {"data": {"name": "setArc"}, "mark": {"type": "line", "color": "#10108a", "strokeWidth": 2.5, "interpolate": "monotone"}},
        {"data": {"name": "txtSmallC"}, "mark": {"type": "text", "fontSize": 22, "align": "center", "baseline": "middle"}, "encoding": {"text": {"field": "s"}}},
        {"data": {"name": "txtSmallL"}, "mark": {"type": "text", "fontSize": 22, "align": "left", "baseline": "middle"}, "encoding": {"text": {"field": "s"}}},
        {"data": {"name": "txtReset"}, "mark": {"type": "text", "fontSize": 27, "align": "center", "baseline": "middle"}, "encoding": {"text": {"field": "s"}}},
        {"data": {"name": "txtSet"}, "mark": {"type": "text", "fontSize": 27, "align": "left", "baseline": "middle"}, "encoding": {"text": {"field": "s"}}},
        {"data": {"name": "txtB"}, "mark": {"type": "text", "fontSize": 35, "align": "center", "baseline": "middle"}, "encoding": {"text": {"field": "s"}}}
      ]
    }
  ]
}
